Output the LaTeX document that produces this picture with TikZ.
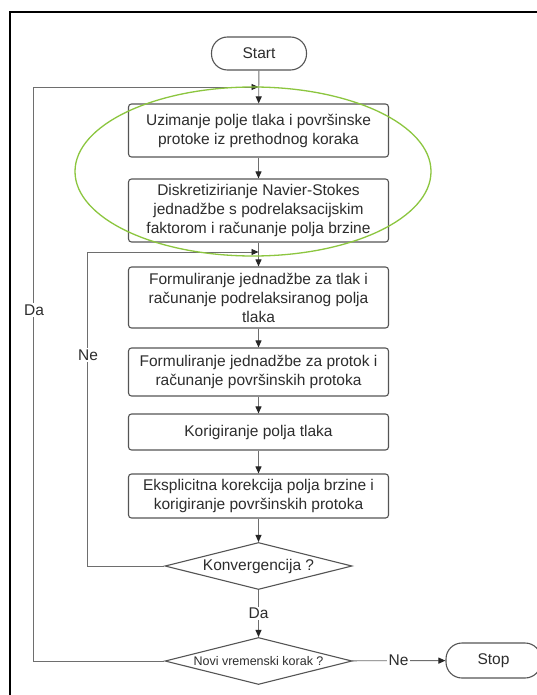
\documentclass[tikz,border=0pt]{standalone}
\usepackage{fontspec}
\setmainfont{Liberation Sans}
\usetikzlibrary{shapes.geometric,arrows.meta}
\definecolor{boxline}{RGB}{85,85,85}
\definecolor{connc}{RGB}{110,110,110}
\definecolor{txt}{RGB}{45,45,45}
\definecolor{ellg}{RGB}{140,198,63}
\begin{document}
\begin{tikzpicture}[x=1pt,y=-1pt,
  font=\fontsize{15.5}{19}\selectfont, text=txt,
  procbox/.style={draw=boxline, line width=1.1pt, rounded corners=3pt, minimum width=260pt, align=center, inner sep=0pt},
  term/.style={draw=boxline, line width=1.1pt, rounded corners=16pt, minimum width=95pt, minimum height=33pt},
  decision/.style={draw=boxline, line width=1.1pt, diamond, aspect=4, minimum width=187pt, minimum height=47pt, inner sep=0pt},
  conn/.style={draw=connc, line width=0.9pt},
  arr/.style={conn, -{Triangle[length=7pt,width=6pt,color=black!85]}},
  lbl/.style={fill=white, inner sep=1.5pt}
]
\useasboundingbox (0,0) rectangle (537,695);
\clip (0,0) rectangle (537,695);
\fill[white] (0,0) rectangle (537,695);
\draw[line width=2pt, black] (10,12) rectangle (570,730);

\node[term] (start) at (259,53.5) {Start};
\node[procbox, minimum height=53pt] (b1) at (258.5,130.5) {Uzimanje polje tlaka i površinske\\protoke iz prethodnog koraka};
\node[procbox, minimum height=63pt] (b2) at (258.5,210.5) {Diskretizirianje Navier-Stokes\\jednadžbe s podrelaksacijskim\\faktorom i računanje polja brzine};
\node[procbox, minimum height=61pt] (b3) at (258.5,297.5) {Formuliranje jednadžbe za tlak i\\računanje podrelaksiranog polja\\tlaka};
\node[procbox, minimum height=48pt] (b4) at (258.5,372) {Formuliranje jednadžbe za protok i\\računanje površinskih protoka};
\node[procbox, minimum height=36pt] (b5) at (258.5,432) {Korigiranje polja tlaka};
\node[procbox, minimum height=44pt] (b6) at (258.5,496) {Eksplicitna korekcija polja brzine i\\korigiranje površinskih protoka};
\node[decision] (d1) at (258.5,566) {Konvergencija ?};
\node[decision, font=\fontsize{12.5}{15}\selectfont] (d2) at (258.5,661) {Novi vremenski korak ?};
\node[term, minimum height=35pt] (stop) at (493.5,660.5) {Stop};

\coordinate (j1) at (258.5,87);
\coordinate (j2) at (258.5,252);

\draw[arr] (start) -- (b1);
\draw[arr] (b1) -- (b2);
\draw[arr] (b2) -- (b3);
\draw[arr] (b3) -- (b4);
\draw[arr] (b4) -- (b5);
\draw[arr] (b5) -- (b6);
\draw[arr] (b6) -- (d1);
\draw[arr] (d1) -- node[lbl] (dalbl) {Da} (d2);
\draw[arr] (d2) -- node[lbl] (nelbl) {Ne} (stop);

\draw[arr] (d2.west) -- ++(-131,0) |- (j1);
\draw[arr] (d1.west) -- ++(-77,0) |- (j2);
\node[lbl] (daloop) at (34,310) {Da};
\node[lbl] (neloop) at (88,355) {Ne};

\draw[ellg, line width=1.3pt] (253,171.5) ellipse [x radius=178pt, y radius=84.5pt];
\end{tikzpicture}
\end{document}
